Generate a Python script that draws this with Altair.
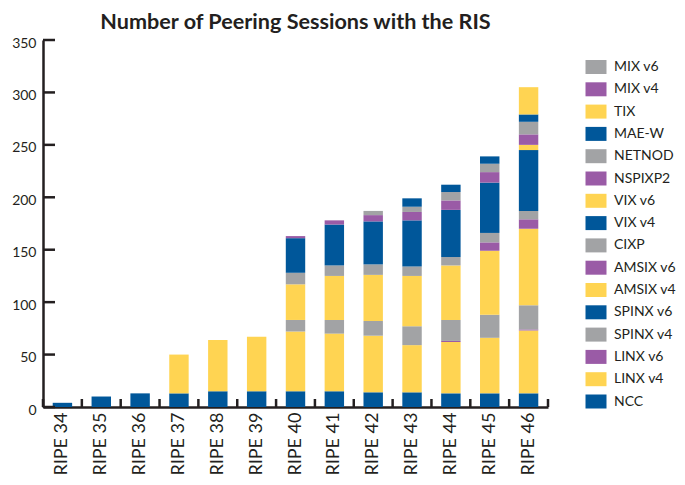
import altair as alt
import pandas as pd

DARK = "#231f20"
FONT = "Lato"

releases = ["RIPE 34", "RIPE 35", "RIPE 36", "RIPE 37", "RIPE 38", "RIPE 39", "RIPE 40",
            "RIPE 41", "RIPE 42", "RIPE 43", "RIPE 44", "RIPE 45", "RIPE 46"]

# stacking order, bottom to top
series = ["NCC", "LINX v4", "LINX v6", "SPINX v4", "SPINX v6", "AMSIX v4", "AMSIX v6", "CIXP",
          "VIX v4", "VIX v6", "NSPIXP2", "NETNOD", "MAE-W", "TIX", "MIX v4", "MIX v6"]

BLUE, YELLOW, PURPLE, GREY = "#00579a", "#ffd452", "#9a5ba6", "#a2a3a5"
series_colors = [BLUE, YELLOW, PURPLE, GREY] * 4

ncc      = [4, 10, 13, 13, 15, 15, 15, 15, 14, 14, 13, 13, 13]
linx_v4  = [0, 0, 0, 37, 49, 52, 57, 55, 54, 45, 49, 53, 60]
linx_v6  = [0, 0, 0, 0, 0, 0, 0, 0, 0, 0, 1, 0, 1]
spinx_v4 = [0, 0, 0, 0, 0, 0, 11, 13, 14, 18, 20, 22, 23]
spinx_v6 = [0, 0, 0, 0, 0, 0, 0, 0, 0, 0, 0, 0, 0]
amsix_v4 = [0, 0, 0, 0, 0, 0, 34, 42, 44, 48, 52, 61, 73]
amsix_v6 = [0, 0, 0, 0, 0, 0, 0, 0, 0, 0, 0, 8, 9]
cixp     = [0, 0, 0, 0, 0, 0, 11, 10, 10, 9, 8, 9, 8]
vix_v4   = [0, 0, 0, 0, 0, 0, 33, 39, 41, 44, 45, 48, 58]
vix_v6   = [0, 0, 0, 0, 0, 0, 0, 0, 0, 0, 0, 0, 5]
nspixp2  = [0, 0, 0, 0, 0, 0, 2, 4, 6, 8, 9, 10, 10]
netnod   = [0, 0, 0, 0, 0, 0, 0, 0, 4, 5, 8, 8, 12]
mae_w    = [0, 0, 0, 0, 0, 0, 0, 0, 0, 8, 7, 7, 7]
tix      = [0, 0, 0, 0, 0, 0, 0, 0, 0, 0, 0, 0, 26]
mix_v4   = [0, 0, 0, 0, 0, 0, 0, 0, 0, 0, 0, 0, 0]
mix_v6   = [0, 0, 0, 0, 0, 0, 0, 0, 0, 0, 0, 0, 0]

all_values = [ncc, linx_v4, linx_v6, spinx_v4, spinx_v6, amsix_v4, amsix_v6, cixp,
              vix_v4, vix_v6, nspixp2, netnod, mae_w, tix, mix_v4, mix_v6]

y_ticks = [0, 50, 100, 150, 200, 250, 300, 350]
boundaries = list(range(len(releases) + 1))

rows = []
for i, (name, vals) in enumerate(zip(series, all_values)):
    for rel, v in zip(releases, vals):
        if v > 0:
            rows.append({"release": rel, "series": name, "value": v, "idx": i})
df = pd.DataFrame(rows)

legend_domain = series[::-1]
legend_range = series_colors[::-1]

W, H = 505, 367

bars = alt.Chart(df).mark_bar().encode(
    x=alt.X("release:N", sort=releases,
            scale=alt.Scale(paddingInner=0.5, paddingOuter=0.25),
            axis=alt.Axis(title=None, labelAngle=270, labelFont=FONT, labelFontSize=18,
                          labelColor=DARK, labelPadding=5, ticks=False,
                          domainColor=DARK, domainWidth=2.5)),
    y=alt.Y("value:Q", stack="zero",
            scale=alt.Scale(domain=[0, 350], nice=False),
            axis=alt.Axis(title=None, values=y_ticks, ticks=False, grid=False,
                          labelFont=FONT, labelFontSize=14, labelColor=DARK,
                          labelPadding=7, labelOffset=3,
                          domainColor=DARK, domainWidth=2.5)),
    color=alt.Color("series:N",
                    scale=alt.Scale(domain=legend_domain, range=legend_range),
                    legend=alt.Legend(title=None, orient="none", legendX=546, legendY=20,
                                      symbolType="M-1.5,-1H1.5V1H-1.5Z", symbolSize=196,
                                      symbolStrokeWidth=0, symbolOpacity=1,
                                      labelFont=FONT, labelFontSize=14, labelColor=DARK,
                                      labelOffset=11, rowPadding=8.3, padding=0)),
    order=alt.Order("idx:Q", sort="ascending"),
)

ytick_df = pd.DataFrame({"value": y_ticks})
yticks = alt.Chart(ytick_df).mark_rule(color=DARK, strokeWidth=2.5).encode(
    y=alt.Y("value:Q", title=None),
    x=alt.value(0),
    x2=alt.value(12),
)

xtick_df = pd.DataFrame({"b": boundaries})
xticks = alt.Chart(xtick_df).mark_rule(color=DARK, strokeWidth=2.5).encode(
    x=alt.X("b:Q", scale=alt.Scale(domain=[0, len(releases)], nice=False, zero=False), axis=None),
    y=alt.value(H),
    y2=alt.value(H - 8),
)

chart = alt.layer(bars, yticks, xticks).resolve_scale(x="independent").properties(
    width=W, height=H,
    autosize=alt.AutoSizeParams(type="none"),
    padding={"left": 35, "top": 32, "right": 129, "bottom": 70},
    title=alt.TitleParams("Number of Peering Sessions with the RIS", font=FONT, fontSize=21.6,
                          fontWeight="bold", color=DARK, anchor="middle", offset=2),
).configure_view(stroke=None)

chart.save("out.html", embed_options={"renderer": "svg", "actions": False})
